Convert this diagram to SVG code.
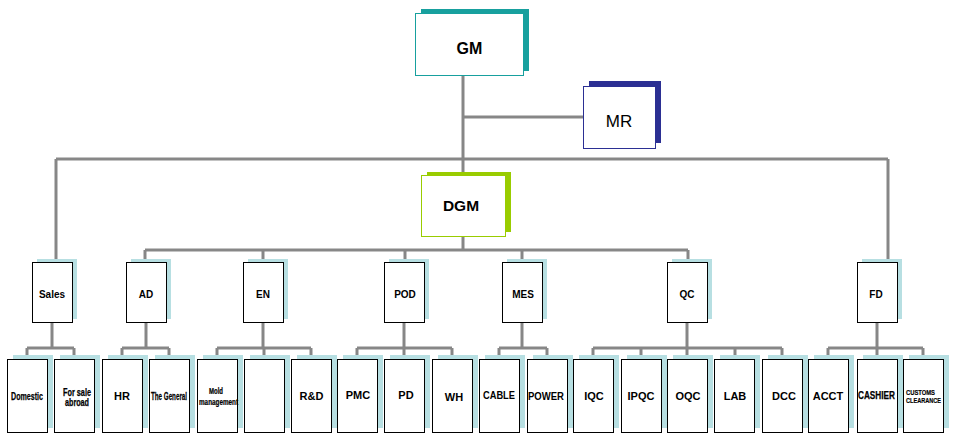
<svg xmlns="http://www.w3.org/2000/svg" width="955" height="436" viewBox="0 0 955 436">
<style>
.bg{fill:#ffffff}
.sh{fill:#b7dfe2}
.bx{fill:#ffffff;stroke:#000000;stroke-width:1}
.ln{fill:none;stroke:#878787;stroke-width:3}
text{font-family:"Liberation Sans",Arial,sans-serif;fill:#000;text-anchor:middle}
.l2{font-size:10px;font-weight:bold}
.l3{font-size:11px;font-weight:bold}
.nc{font-size:11.5px;font-weight:bold;stroke:#000;stroke-width:0.25}
.n2{font-size:10px;font-weight:bold;stroke:#000;stroke-width:0.25}
.n3{font-size:8px;font-weight:bold;stroke:#000;stroke-width:0.2;text-anchor:start}
</style>
<rect class="bg" x="0" y="0" width="955" height="436"/>
<g id="connectors">
<path class="ln" d="M463 75V175M463 117H583M56 159H888M56 159V262M888 159V262"/>
<path class="ln" d="M463 237V250M145 250H688M145 250V262M263 250V262M405 250V262M522 250V262M688 250V262"/>
<path class="ln" d="M52 322V348M27 348H74M27 348V356M74 348V356"/>
<path class="ln" d="M146 322V348M122 348H169M122 348V356M169 348V356"/>
<path class="ln" d="M263 322V348M217 348H311M217 348V356M264 348V356M311 348V356"/>
<path class="ln" d="M404 322V348M357 348H452M357 348V356M404 348V356M452 348V356"/>
<path class="ln" d="M522 322V348M499 348H547M499 348V356M547 348V356"/>
<path class="ln" d="M687 322V348M593 348H782M593 348V356M641 348V356M687 348V356M735 348V356M782 348V356"/>
<path class="ln" d="M877 322V348M828 348H923M828 348V356M877 348V356M923 348V356"/>
</g>
<g id="GM">
<rect x="421" y="9" width="108" height="62" fill="#17a09e"/>
<rect x="415.5" y="13.5" width="108" height="62" fill="#fff" stroke="#17a09e" stroke-width="1"/>
<text x="469.5" y="54" style="font-size:16px;font-weight:bold">GM</text>
</g>
<g id="MR">
<rect x="589" y="81" width="72" height="62" fill="#2b2f93"/>
<rect x="583.5" y="86.5" width="72" height="62" fill="#fff" stroke="#2b2f93" stroke-width="1"/>
<text x="619" y="127" style="font-size:17px">MR</text>
</g>
<g id="DGM">
<rect x="427" y="172" width="84" height="60" fill="#99cc00"/>
<rect x="421.5" y="175.5" width="84" height="61" fill="#fff" stroke="#99cc00" stroke-width="1"/>
<text x="461" y="211" style="font-size:15.5px;font-weight:bold">DGM</text>
</g>
<g id="Sales"><rect class="sh" x="37" y="259" width="40" height="60"/><rect class="bx" x="32.5" y="262.5" width="40" height="60"/><text class="l2" x="52" y="298">Sales</text></g>
<g id="AD"><rect class="sh" x="131" y="259" width="40" height="60"/><rect class="bx" x="126.5" y="262.5" width="40" height="60"/><text class="l2" x="146" y="298">AD</text></g>
<g id="EN"><rect class="sh" x="248" y="259" width="40" height="60"/><rect class="bx" x="243.5" y="262.5" width="40" height="60"/><text class="l2" x="263" y="298">EN</text></g>
<g id="POD"><rect class="sh" x="389" y="259" width="40" height="60"/><rect class="bx" x="384.5" y="262.5" width="40" height="60"/><text class="l2" x="405" y="298">POD</text></g>
<g id="MES"><rect class="sh" x="507" y="259" width="40" height="60"/><rect class="bx" x="502.5" y="262.5" width="40" height="60"/><text class="l2" x="523" y="298">MES</text></g>
<g id="QC"><rect class="sh" x="672" y="259" width="40" height="60"/><rect class="bx" x="667.5" y="262.5" width="40" height="60"/><text class="l2" x="687" y="298">QC</text></g>
<g id="FD"><rect class="sh" x="862" y="259" width="40" height="60"/><rect class="bx" x="857.5" y="262.5" width="40" height="60"/><text class="l2" x="876" y="298">FD</text></g>
<g id="Domestic"><rect class="sh" x="13" y="355" width="40" height="73"/><rect class="bx" x="7.5" y="359.5" width="40" height="73"/><text class="nc" x="27" y="400" textLength="32" lengthAdjust="spacingAndGlyphs">Domestic</text></g>
<g id="ForSale"><rect class="sh" x="60" y="355" width="40" height="73"/><rect class="bx" x="54.5" y="359.5" width="40" height="73"/><text class="n2" x="77" y="395.5" textLength="28" lengthAdjust="spacingAndGlyphs">For sale</text><text class="n2" x="77" y="405.5" textLength="24" lengthAdjust="spacingAndGlyphs">abroad</text></g>
<g id="HR"><rect class="sh" x="108" y="355" width="40" height="73"/><rect class="bx" x="102.5" y="359.5" width="40" height="73"/><text class="l3" x="122" y="400">HR</text></g>
<g id="TheGeneral"><rect class="sh" x="155" y="355" width="40" height="73"/><rect class="bx" x="149.5" y="359.5" width="40" height="73"/><text class="nc" transform="translate(169,400) scale(0.55,1)" x="0" y="0" textLength="65.5" lengthAdjust="spacingAndGlyphs">The General</text></g>
<g id="Mold"><rect class="sh" x="203" y="355" width="40" height="73"/><rect class="bx" x="197.5" y="359.5" width="40" height="73"/><text class="n2" transform="translate(216,393.5) scale(0.63,1)" x="0" y="0" style="font-size:9.5px" textLength="22.2" lengthAdjust="spacingAndGlyphs">Mold</text><text class="n2" transform="translate(218.5,405) scale(0.666,1)" x="0" y="0" style="font-size:9.5px" textLength="58.6" lengthAdjust="spacingAndGlyphs">management</text></g>
<g id="Blank"><rect class="sh" x="250" y="355" width="40" height="73"/><rect class="bx" x="244.5" y="359.5" width="40" height="73"/></g>
<g id="RD"><rect class="sh" x="297" y="355" width="40" height="73"/><rect class="bx" x="291.5" y="359.5" width="40" height="73"/><text class="l3" x="311.5" y="400">R&amp;D</text></g>
<g id="PMC"><rect class="sh" x="343" y="355" width="40" height="73"/><rect class="bx" x="337.5" y="359.5" width="40" height="73"/><text class="l3" x="358" y="399">PMC</text></g>
<g id="PD"><rect class="sh" x="390" y="355" width="40" height="73"/><rect class="bx" x="384.5" y="359.5" width="40" height="73"/><text class="l3" x="406" y="399">PD</text></g>
<g id="WH"><rect class="sh" x="438" y="355" width="40" height="73"/><rect class="bx" x="432.5" y="359.5" width="40" height="73"/><text class="l3" x="454" y="401">WH</text></g>
<g id="CABLE"><rect class="sh" x="485" y="355" width="40" height="73"/><rect class="bx" x="479.5" y="359.5" width="40" height="73"/><text class="l3" x="499" y="399" style="font-size:10px" textLength="32" lengthAdjust="spacingAndGlyphs">CABLE</text></g>
<g id="POWER"><rect class="sh" x="533" y="355" width="40" height="73"/><rect class="bx" x="527.5" y="359.5" width="40" height="73"/><text class="l3" x="546" y="400" style="font-size:10px" textLength="36" lengthAdjust="spacingAndGlyphs">POWER</text></g>
<g id="IQC"><rect class="sh" x="579" y="355" width="40" height="73"/><rect class="bx" x="573.5" y="359.5" width="40" height="73"/><text class="l3" x="594" y="400">IQC</text></g>
<g id="IPQC"><rect class="sh" x="627" y="355" width="40" height="73"/><rect class="bx" x="621.5" y="359.5" width="40" height="73"/><text class="l3" x="641" y="400">IPQC</text></g>
<g id="OQC"><rect class="sh" x="673" y="355" width="40" height="73"/><rect class="bx" x="667.5" y="359.5" width="40" height="73"/><text class="l3" x="688" y="400">OQC</text></g>
<g id="LAB"><rect class="sh" x="720" y="355" width="40" height="73"/><rect class="bx" x="714.5" y="359.5" width="40" height="73"/><text class="l3" x="735" y="400">LAB</text></g>
<g id="DCC"><rect class="sh" x="768" y="355" width="40" height="73"/><rect class="bx" x="762.5" y="359.5" width="40" height="73"/><text class="l3" x="784" y="400">DCC</text></g>
<g id="ACCT"><rect class="sh" x="814" y="355" width="40" height="73"/><rect class="bx" x="808.5" y="359.5" width="40" height="73"/><text class="l3" x="828" y="400">ACCT</text></g>
<g id="CASHIER"><rect class="sh" x="863" y="355" width="40" height="73"/><rect class="bx" x="857.5" y="359.5" width="40" height="73"/><text class="nc" x="876.5" y="399" style="font-size:10.5px" textLength="37" lengthAdjust="spacingAndGlyphs">CASHIER</text></g>
<g id="CUSTOMS"><rect class="sh" x="909" y="355" width="40" height="73"/><rect class="bx" x="903.5" y="359.5" width="40" height="73"/><text class="n3" x="906" y="395" textLength="29" lengthAdjust="spacingAndGlyphs">CUSTOMS</text><text class="n3" x="906" y="403" textLength="35" lengthAdjust="spacingAndGlyphs">CLEARANCE</text></g>
</svg>
